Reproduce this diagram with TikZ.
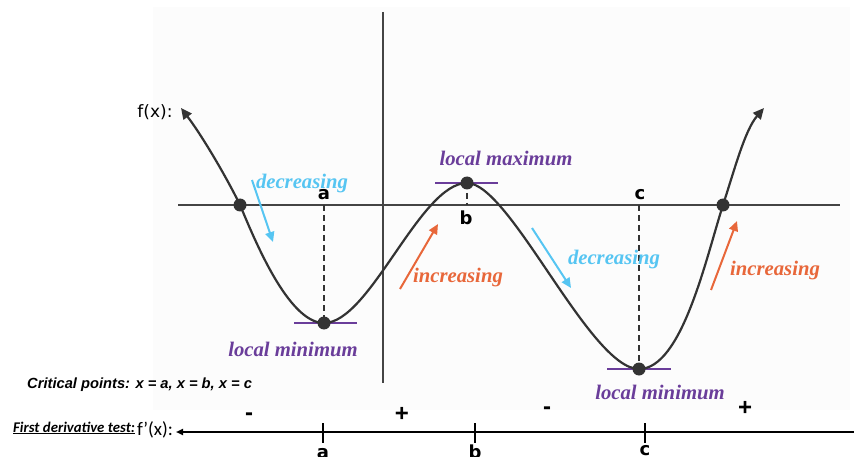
\documentclass[tikz,border=0pt]{standalone}
\usepackage{fontspec}
\setmainfont{Liberation Serif}
\setsansfont{Liberation Sans}
\newfontfamily\calib{Carlito}
\newfontfamily\dejav{DejaVu Sans}
\usetikzlibrary{arrows.meta}
\definecolor{curvegray}{HTML}{333333}
\definecolor{axisgray}{HTML}{444444}
\definecolor{decblue}{HTML}{56C5F2}
\definecolor{incorange}{HTML}{E8673A}
\definecolor{lpurple}{HTML}{6A3D9A}
\definecolor{bgpanel}{HTML}{FCFCFC}
\tikzset{
  axisline/.style={draw=axisgray, line width=2pt},
  fcurve/.style={draw=curvegray, line width=2.2pt, {Triangle[length=11pt,width=10pt]}-{Triangle[length=11pt,width=10pt]}},
  critdot/.style={circle, fill=curvegray, inner sep=0pt, minimum size=13pt},
  dashline/.style={draw=curvegray, line width=1.8pt, dash pattern=on 6pt off 4pt},
  tangentline/.style={draw=lpurple, line width=1.8pt},
  purplelbl/.style={text=lpurple, font=\fontsize{20.7}{20.7}\selectfont\bfseries\itshape},
  declbl/.style={text=decblue, font=\fontsize{20.7}{20.7}\selectfont\bfseries\itshape},
  inclbl/.style={text=incorange, font=\fontsize{20.7}{20.7}\selectfont\bfseries\itshape},
  decarrow/.style={draw=decblue, line width=2pt, -{Triangle[length=10pt,width=9pt]}},
  incarrow/.style={draw=incorange, line width=2pt, -{Triangle[length=10pt,width=9pt]}},
  ptlbl/.style={font=\dejav\fontsize{18}{18}\selectfont\bfseries, inner sep=0pt},
  signlbl/.style={font=\sffamily\fontsize{24}{24}\selectfont\bfseries, inner sep=0pt},
  ticklinestyle/.style={draw=black, line width=2pt},
}
\begin{document}
\begin{tikzpicture}[x=1pt,y=-1pt]
\path[use as bounding box, fill=white] (0,0) rectangle (854,457);
\fill[bgpanel] (153,7) rectangle (850,410);

% axes
\coordinate (xl) at (178,205);
\coordinate (xr) at (840,205);
\coordinate (yt) at (383,12);
\coordinate (yb) at (383,383);
\draw[axisline] (xl) -- (xr);
\draw[axisline] (yt) -- (yb);

% key points
\coordinate (p0) at (181,108);
\coordinate (p1) at (240,205);
\coordinate (p2) at (324,323);
\coordinate (p4) at (467,183);
\coordinate (p6) at (639,369);
\coordinate (p7) at (723,205);
\coordinate (p8) at (764,108);

% dashed lines to x-axis
\coordinate (ax) at (324,205);
\coordinate (bx) at (467,205);
\coordinate (cx) at (639,205);
\draw[dashline] (ax) -- (p2);
\draw[dashline] (p4) -- (bx);
\draw[dashline] (cx) -- (p6);

% tangent lines
\coordinate (t1l) at (294,323); \coordinate (t1r) at (357,323);
\coordinate (t2l) at (435,183); \coordinate (t2r) at (498,183);
\coordinate (t3l) at (607,369); \coordinate (t3r) at (671,369);
\draw[tangentline] (t1l) -- (t1r);
\draw[tangentline] (t2l) -- (t2r);
\draw[tangentline] (t3l) -- (t3r);

% curve
\draw[fcurve] (p0) .. controls (203,137) and (228,180) .. (p1)
  .. controls (254,238) and (288,323) .. (p2)
  .. controls (370,323) and (420,183) .. (p4)
  .. controls (510,183) and (590,369) .. (p6)
  .. controls (682,369) and (706,258) .. (p7)
  .. controls (735,168) and (745,130) .. (p8);

% dots
\node[critdot] (d1) at (p1) {};
\node[critdot] (d2) at (p2) {};
\node[critdot] (d3) at (p4) {};
\node[critdot] (d4) at (p6) {};
\node[critdot] (d5) at (p7) {};

% point labels on graph
\node[ptlbl] (la) at (324,195) {a};
\node[ptlbl] (lb) at (466,218) {b};
\node[ptlbl] (lc) at (640,195) {c};

\node[font=\dejav\fontsize{17}{17}\selectfont, inner sep=0pt] (fx) at (155,112) {f(x):};

% extrema labels
\node[purplelbl] (lmax) at (506,158) {local maximum};
\node[purplelbl] (lmin1) at (293,349) {local minimum};
\node[purplelbl] (lmin2) at (660,392) {local minimum};

% increasing / decreasing
\node[declbl] (dec1) at (302,184) {decreasing};
\coordinate (da1) at (252,180); \coordinate (da2) at (273,242);
\draw[decarrow] (da1) -- (da2);
\node[declbl] (dec2) at (614,260) {decreasing};
\coordinate (db1) at (532,228); \coordinate (db2) at (571,288);
\draw[decarrow] (db1) -- (db2);
\node[inclbl] (inc1) at (458,278) {increasing};
\coordinate (ia1) at (400,289); \coordinate (ia2) at (438,224);
\draw[incarrow] (ia1) -- (ia2);
\node[inclbl] (inc2) at (775,271) {increasing};
\coordinate (ib1) at (711,290); \coordinate (ib2) at (737,221);
\draw[incarrow] (ib1) -- (ib2);

% bottom texts
\node[anchor=west, inner sep=0pt, font=\sffamily\fontsize{14.7}{14.7}\selectfont\bfseries\itshape] (crit) at (27,385) {Critical points: x = a, x = b, x = c};
\node[anchor=west, inner sep=0pt, font=\calib\fontsize{14.8}{14.8}\selectfont\bfseries\itshape] (fdt) at (13,428) {\underline{First derivative test:}};
\node[anchor=west, inner sep=0pt, font=\calib\fontsize{19}{19}\selectfont] (fpx) at (137,430) {f\kern0.5pt’(x):};

% sign line
\coordinate (sl) at (176,432);
\coordinate (sr) at (854,432);
\draw[draw=black, line width=2pt, {Triangle[length=7pt,width=6pt]}-] (sl) -- (sr);
\coordinate (ta1) at (323,423); \coordinate (ta2) at (323,443);
\coordinate (tb1) at (475,423); \coordinate (tb2) at (475,443);
\coordinate (tc1) at (645,423); \coordinate (tc2) at (645,443);
\draw[ticklinestyle] (ta1) -- (ta2);
\draw[ticklinestyle] (tb1) -- (tb2);
\draw[ticklinestyle] (tc1) -- (tc2);
\node[ptlbl] (ba) at (323,454) {a};
\node[ptlbl] (bb) at (475,452) {b};
\node[ptlbl] (bc) at (645,451) {c};

\node[signlbl] (s1) at (249,417) {-};
\node[signlbl] (s2) at (402,414) {+};
\node[signlbl] (s3) at (547,411) {-};
\node[signlbl] (s4) at (745,408) {+};
\end{tikzpicture}
\end{document}
